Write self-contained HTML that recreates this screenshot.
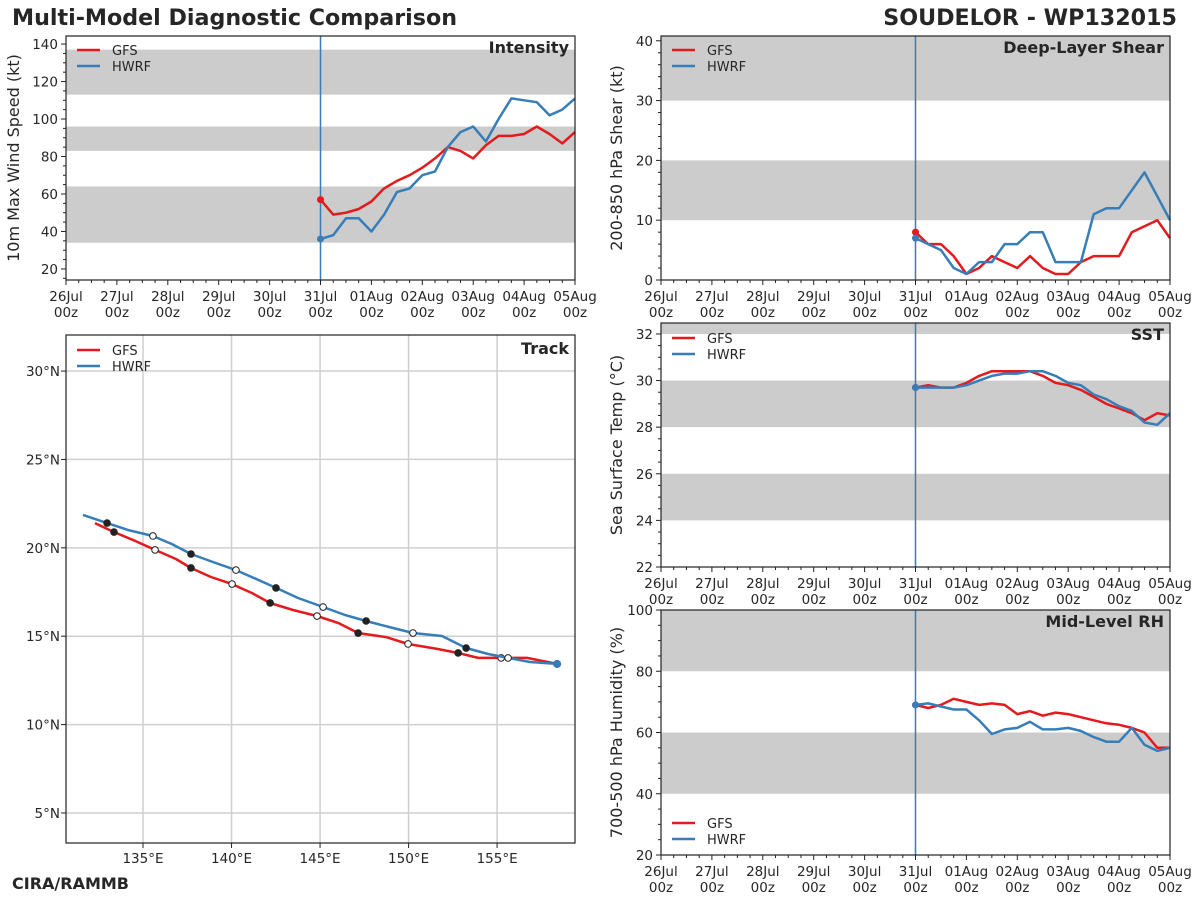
<!DOCTYPE html>
<html><head><meta charset="utf-8"><style>
body{margin:0;background:#fff;}
svg text{font-family:"DejaVu Sans","Liberation Sans",sans-serif;fill:#262626;}
</style></head><body>
<svg id="fig" width="1200" height="900" xmlns="http://www.w3.org/2000/svg">
<text x="12" y="25" font-size="22.2" font-weight="bold">Multi-Model Diagnostic Comparison</text>
<text x="1177" y="25" font-size="22.2" font-weight="bold" text-anchor="end">SOUDELOR - WP132015</text>
<text x="12" y="889" font-size="16" font-weight="bold">CIRA/RAMMB</text>
</svg>
<script>
// ---- data ----
const dayLabels = ["26Jul","27Jul","28Jul","29Jul","30Jul","31Jul","01Aug","02Aug","03Aug","04Aug","05Aug"];
const models = ["GFS","HWRF"];
const intensityGFS = [57,49,50,52,56,63,67,70,74,79,85,83,79,86,91,91,92,96,92,87,93];
const intensityHWRF = [36,38,47,47,40,49,61,63,70,72,85,93,96,88,100,111,110,109,102,105,111];
const shearGFS = [8,6,6,4,1,2,4,3,2,4,2,1,1,3,4,4,4,8,9,10,7];
const shearHWRF = [7,6,5,2,1,3,3,6,6,8,8,3,3,3,11,12,12,15,18,14,10];
const sstGFS = [29.7,29.8,29.7,29.7,29.9,30.2,30.4,30.4,30.4,30.4,30.2,29.9,29.8,29.6,29.3,29.0,28.8,28.6,28.3,28.6,28.5];
const sstHWRF = [29.7,29.7,29.7,29.7,29.8,30.0,30.2,30.3,30.3,30.4,30.4,30.2,29.9,29.8,29.4,29.2,28.9,28.7,28.2,28.1,28.6];
const rhGFS = [69,68,69,71,70,69,69.5,69,66,67,65.5,66.5,66,65,64,63,62.5,61.5,60,55,55];
const rhHWRF = [69,69.5,68.5,67.5,67.5,64,59.5,61,61.5,63.5,61,61,61.5,60.5,58.5,57,57,61.5,56,54,55];
const trackGFSLon = [132.29,133.36,134.44,135.68,136.86,137.71,138.84,140.03,141.16,142.18,143.47,144.83,146.02,147.15,148.73,149.97,151.61,152.80,153.93,155.23,156.69,158.39];
const trackGFSLat = [21.40,20.89,20.44,19.88,19.37,18.86,18.35,17.95,17.44,16.88,16.48,16.14,15.75,15.18,14.95,14.56,14.28,14.05,13.77,13.77,13.77,13.43];
const trackHWRFLon = [131.61,132.97,134.15,135.56,136.64,137.71,138.95,140.25,141.38,142.51,143.76,145.17,146.41,147.60,148.90,150.25,151.89,153.25,154.49,155.62,156.86,158.39];
const trackHWRFLat = [21.86,21.40,21.01,20.67,20.21,19.65,19.20,18.74,18.24,17.73,17.16,16.65,16.20,15.86,15.52,15.18,15.01,14.33,13.99,13.77,13.54,13.43];
const lonTicks = [135,140,145,150,155];
const latTicks = [5,10,15,20,25,30];

const RED="#e41a1c", BLUE="#377eb8";
const NS="http://www.w3.org/2000/svg";
const svg=document.getElementById('fig');
function mk(tag,attrs,parent){const e=document.createElementNS(NS,tag);for(const k in attrs)e.setAttribute(k,attrs[k]);(parent||svg).appendChild(e);return e;}

function timePanel(cfg){
  const g=mk('g',{});
  
  
  const {x0,x1,y0,y1,ymin,ymax}=cfg;
  const X=d=>x0+(d/10)*(x1-x0);
  const Y=v=>y1-(v-ymin)/(ymax-ymin)*(y1-y0);
  cfg.bands.forEach(b=>{
    const r=mk('rect',{x:x0,y:Y(Math.min(b[1],ymax)),width:x1-x0,height:Y(b[0])-Y(Math.min(b[1],ymax)),fill:"#cccccc"},g);
    
    
  });
  const vl=mk('line',{x1:X(5),x2:X(5),y1:y0,y2:y1,stroke:BLUE,'stroke-width':1.5},g);
  
  
  [[cfg.gfs,RED,'gfs'],[cfg.hwrf,BLUE,'hwrf']].forEach(([arr,col,nm])=>{
    const pts=arr.map((v,i)=>X(5+i*0.25).toFixed(1)+','+Y(v).toFixed(1)).join(' ');
    const pl=mk('polyline',{points:pts,fill:'none',stroke:col,'stroke-width':2.5,'stroke-linejoin':'round'},g);
    
    
    const c=mk('circle',{cx:X(5),cy:Y(arr[0]),r:3.5,fill:col},g);
    
    
  });
  mk('rect',{x:x0,y:y0,width:x1-x0,height:y1-y0,fill:'none',stroke:'#222','stroke-width':1.2},g);
  for(let d=0;d<=10;d+=0.25){
    const major=(d%1===0);
    mk('line',{x1:X(d),x2:X(d),y1:y1,y2:y1+(major?5:3),stroke:'#222','stroke-width':1},g);
  }
  dayLabels.forEach((lab,i)=>{
    const t=mk('text',{x:X(i),y:y1+21,'font-size':13.5,'text-anchor':'middle'},g);t.textContent=lab;
    
    
    const t2=mk('text',{x:X(i),y:y1+37,'font-size':13.5,'text-anchor':'middle'},g);t2.textContent='00z';
  });
  for(let v=Math.ceil(ymin/cfg.minor)*cfg.minor;v<=ymax+1e-9;v+=cfg.minor){
    const major=Math.abs(v/cfg.major-Math.round(v/cfg.major))<1e-6;
    mk('line',{x1:x0,x2:x0-(major?5:3),y1:Y(v),y2:Y(v),stroke:'#222','stroke-width':1},g);
    if(major){const t=mk('text',{x:x0-8,y:Y(v)+5,'font-size':13.5,'text-anchor':'end'},g);t.textContent=Math.round(v);
      
      }
  }
  const yl=mk('text',{x:0,y:0,'font-size':16,'text-anchor':'middle',transform:`translate(${cfg.ylx},${(y0+y1)/2}) rotate(-90)`},g);
  yl.textContent=cfg.ylabel;
  
  
  const tt=mk('text',{x:x1-6,y:y0+17,'font-size':16,'font-weight':'bold','text-anchor':'end'},g);tt.textContent=cfg.title;
  
  
  legend(g,x0,cfg.legY);
}
function legend(g,x0,ly){
  models.forEach((m,i)=>{
    const y=ly+i*16;
    const l=mk('line',{x1:x0+11,x2:x0+34,y1:y,y2:y,stroke:i?BLUE:RED,'stroke-width':2.5},g);
    
    
    const t=mk('text',{x:x0+46,y:y+5,'font-size':13},g);t.textContent=m;
  });
}
timePanel({name:'intensity',x0:66,x1:575,y0:36,y1:280,ymin:14.1,ymax:144.3,major:20,minor:5,bands:[[34,64],[83,96],[113,137]],gfs:intensityGFS,hwrf:intensityHWRF,ylabel:'10m Max Wind Speed (kt)',ylx:19,title:'Intensity',legY:50});
timePanel({name:'shear',x0:661,x1:1170,y0:36,y1:280,ymin:0,ymax:40.8,major:10,minor:2,bands:[[10,20],[30,45]],gfs:shearGFS,hwrf:shearHWRF,ylabel:'200-850 hPa Shear (kt)',ylx:622,title:'Deep-Layer Shear',legY:50});
timePanel({name:'sst',x0:661,x1:1170,y0:323,y1:567,ymin:22,ymax:32.47,major:2,minor:0.5,bands:[[24,26],[28,30],[32,34]],gfs:sstGFS,hwrf:sstHWRF,ylabel:'Sea Surface Temp (°C)',ylx:622,title:'SST',legY:338});
timePanel({name:'rh',x0:661,x1:1170,y0:610,y1:855,ymin:20,ymax:100,major:20,minor:5,bands:[[40,60],[80,100]],gfs:rhGFS,hwrf:rhHWRF,ylabel:'700-500 hPa Humidity (%)',ylx:622,title:'Mid-Level RH',legY:823});

(function(){
  const g=mk('g',{});
  
  
  const x0=66,x1=575,y0=335,y1=843,lonMin=130.65,lonMax=159.4,latMin=3.3,latMax=32.04;
  const X=l=>x0+(l-lonMin)/(lonMax-lonMin)*(x1-x0);
  const Y=l=>y1-(l-latMin)/(latMax-latMin)*(y1-y0);
  lonTicks.forEach(l=>{
    mk('line',{x1:X(l),x2:X(l),y1:y0,y2:y1,stroke:'#cfcfcf','stroke-width':1.5},g);
    mk('line',{x1:X(l),x2:X(l),y1:y1,y2:y1+5,stroke:'#222'},g);
    const t=mk('text',{x:X(l),y:y1+20,'font-size':13.5,'text-anchor':'middle'},g);t.textContent=l+'°E';
    
    
  });
  latTicks.forEach(l=>{
    mk('line',{x1:x0,x2:x1,y1:Y(l),y2:Y(l),stroke:'#cfcfcf','stroke-width':1.5},g);
    mk('line',{x1:x0,x2:x0-5,y1:Y(l),y2:Y(l),stroke:'#222'},g);
    const t=mk('text',{x:x0-6,y:Y(l)+5,'font-size':13.5,'text-anchor':'end'},g);t.textContent=l+'°N';
    
    
  });
  [[trackGFSLon,trackGFSLat,RED,'gfs'],[trackHWRFLon,trackHWRFLat,BLUE,'hwrf']].forEach(([lo,la,col,nm])=>{
    const pts=lo.map((v,i)=>X(v).toFixed(1)+','+Y(la[i]).toFixed(1)).join(' ');
    const pl=mk('polyline',{points:pts,fill:'none',stroke:col,'stroke-width':2.5,'stroke-linejoin':'round'},g);
    
    
    lo.forEach((v,i)=>{
      if(i%2===1){
        const filled=((i-1)/2)%2===0;
        const c=mk('circle',{cx:X(v),cy:Y(la[i]),r:3.3,fill:filled?'#222':'#fff',stroke:'#222','stroke-width':1},g);
        
        
      }
    });
  });
  const e=mk('circle',{cx:X(trackHWRFLon[trackHWRFLon.length-1]),cy:Y(trackHWRFLat[trackHWRFLat.length-1]),r:4,fill:BLUE},g);
  
  
  mk('rect',{x:x0,y:y0,width:x1-x0,height:y1-y0,fill:'none',stroke:'#222','stroke-width':1.2},g);
  const tt=mk('text',{x:x1-6,y:y0+19,'font-size':16,'font-weight':'bold','text-anchor':'end'},g);tt.textContent='Track';
  
  
  legend(g,x0,350);
})();
</script>
</body></html>
